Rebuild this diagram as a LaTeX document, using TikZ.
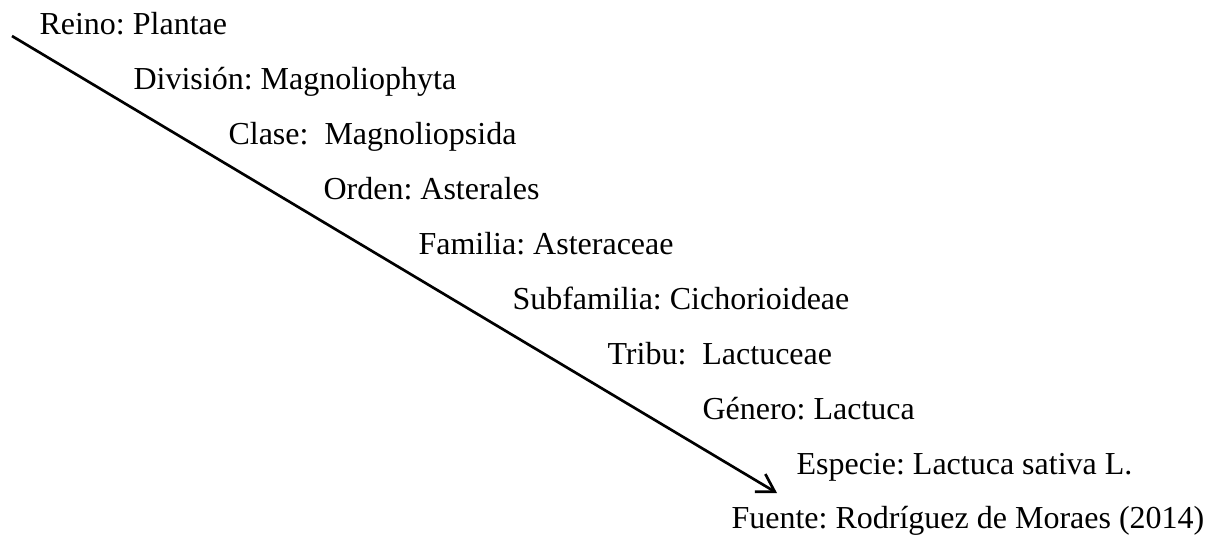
\documentclass[tikz,border=0pt]{standalone}
\usepackage{fontspec}
\setmainfont{Liberation Serif}
\usetikzlibrary{arrows.meta}

\begin{document}
\frenchspacing
\begin{tikzpicture}[
  x=0.375pt, y=-0.375pt,
  taxon/.style={anchor=base west, inner sep=0pt, font=\fontsize{12pt}{14pt}\selectfont},
  arrow/.style={-{Straight Barb[angle=62:7.5pt]}, line width=1pt},
]
\useasboundingbox (0,0) rectangle (1212,535);

% === TAXONOMIC RANKS (stepped down to the right) ===
\node[taxon] (reino)      at (39, 34)  {Reino: Plantae};
\node[taxon] (division)   at (133, 89) {División: Magnoliophyta};
\node[taxon] (clase)      at (228, 144) {Clase:\ \ Magnoliopsida};
\node[taxon] (orden)      at (323, 199) {Orden: Asterales};
\node[taxon] (familia)    at (418, 254) {Familia: Asteraceae};
\node[taxon] (subfamilia) at (512, 309) {Subfamilia: Cichorioideae};
\node[taxon] (tribu)      at (607, 364) {Tribu:\ \ Lactuceae};
\node[taxon] (genero)     at (702, 419) {Género: Lactuca};
\node[taxon] (especie)    at (796, 474) {Especie: Lactuca sativa L.};
\node[taxon] (fuente)     at (731, 528) {Fuente: Rodríguez de Moraes (2014)};

% === DIAGONAL ARROW ===
\coordinate (top) at (12, 36);
\coordinate (tip) at (777, 493);
\draw[arrow] (top) -- (tip);
\end{tikzpicture}
\end{document}
